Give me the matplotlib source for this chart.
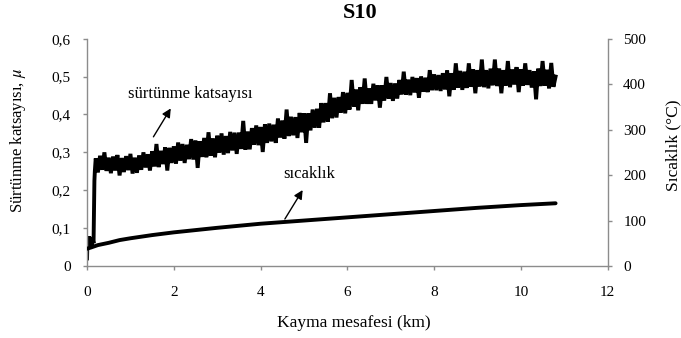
import numpy as np
import matplotlib
matplotlib.use("Agg")
import matplotlib.pyplot as plt

plt.rcParams["font.family"] = ["Liberation Serif", "DejaVu Serif"]
plt.rcParams["mathtext.fontset"] = "stix"

# ---- data -----------------------------------------------------------------
# running-in stage of the friction record (distance in km, coefficient)
start_km = [0.0, 0.01, 0.03, 0.05, 0.07, 0.09, 0.11, 0.13, 0.15, 0.16, 0.17, 0.18]
start_mu = [0.020, 0.070, 0.048, 0.078, 0.050, 0.075, 0.055, 0.072, 0.060, 0.150, 0.225, 0.250]

# friction coefficient readings every 0.05 km from 0.20 km to 10.80 km
friction_mu = [
    0.284, 0.247, 0.291, 0.254, 0.300, 0.251, 0.286, 0.245, 0.289, 0.252,
    0.293, 0.239, 0.285, 0.248, 0.290, 0.253, 0.296, 0.244, 0.286, 0.246,
    0.292, 0.254, 0.300, 0.260, 0.295, 0.252, 0.303, 0.263, 0.322, 0.261,
    0.304, 0.269, 0.313, 0.252, 0.312, 0.272, 0.316, 0.270, 0.326, 0.278,
    0.322, 0.272, 0.320, 0.282, 0.335, 0.281, 0.331, 0.259, 0.329, 0.288,
    0.338, 0.287, 0.353, 0.291, 0.337, 0.287, 0.344, 0.299, 0.350, 0.294,
    0.343, 0.298, 0.354, 0.305, 0.352, 0.296, 0.352, 0.309, 0.383, 0.307,
    0.355, 0.308, 0.364, 0.320, 0.371, 0.319, 0.367, 0.301, 0.374, 0.325,
    0.376, 0.329, 0.373, 0.325, 0.389, 0.339, 0.384, 0.336, 0.413, 0.343,
    0.394, 0.345, 0.393, 0.338, 0.404, 0.353, 0.403, 0.325, 0.403, 0.358,
    0.413, 0.365, 0.415, 0.365, 0.430, 0.379, 0.430, 0.381, 0.456, 0.390,
    0.444, 0.392, 0.446, 0.405, 0.459, 0.403, 0.457, 0.413, 0.491, 0.421,
    0.466, 0.411, 0.472, 0.428, 0.495, 0.428, 0.469, 0.428, 0.481, 0.437,
    0.477, 0.418, 0.477, 0.437, 0.499, 0.442, 0.483, 0.436, 0.482, 0.442,
    0.491, 0.453, 0.513, 0.452, 0.492, 0.451, 0.499, 0.458, 0.496, 0.444,
    0.500, 0.460, 0.497, 0.459, 0.517, 0.464, 0.506, 0.464, 0.504, 0.462,
    0.509, 0.466, 0.516, 0.448, 0.509, 0.465, 0.535, 0.471, 0.515, 0.465,
    0.513, 0.470, 0.535, 0.473, 0.519, 0.456, 0.517, 0.474, 0.545, 0.472,
    0.517, 0.469, 0.521, 0.477, 0.545, 0.475, 0.521, 0.456, 0.517, 0.476,
    0.541, 0.472, 0.519, 0.479, 0.525, 0.459, 0.519, 0.476, 0.535, 0.478,
    0.517, 0.471, 0.514, 0.440, 0.521, 0.475, 0.541, 0.476, 0.518, 0.469,
    0.536, 0.473, 0.500,
]
friction_km = np.linspace(0.20, 10.80, len(friction_mu))

# disc temperature (km, deg C)
temp_km = [0, 0.1, 0.25, 0.5, 0.75, 1, 1.5, 2, 2.5, 3, 4, 5, 6, 7, 8, 9, 10, 10.8]
temp_c = [38, 41, 46, 51, 57, 61, 68, 74, 79, 84, 93, 100, 107, 114, 121, 128, 134, 138]

x_ticks = [0, 2, 4, 6, 8, 10, 12]
mu_ticks = [0, 0.1, 0.2, 0.3, 0.4, 0.5, 0.6]
mu_tick_labels = ["0", "0,1", "0,2", "0,3", "0,4", "0,5", "0,6"]
temp_ticks = [0, 100, 200, 300, 400, 500]

# ---- figure ---------------------------------------------------------------
fig = plt.figure(figsize=(6.81, 3.38), dpi=100)
ax = fig.add_axes([0.1278, 0.213, 0.7645, 0.6725])
ax2 = ax.twinx()

spine_grey = "#8c8c8c"
lw = 2.8

ax.plot(list(start_km) + list(friction_km), list(start_mu) + list(friction_mu),
        color="black", lw=lw, solid_joinstyle="miter")
ax2.plot(temp_km, temp_c, color="black", lw=lw, solid_capstyle="round")

ax.set_xlim(0, 12)
ax.set_ylim(0, 0.6)
ax2.set_ylim(0, 500)

ax.set_xticks(x_ticks)
ax.set_xticklabels([str(t) for t in x_ticks])
ax.set_yticks(mu_ticks)
ax.set_yticklabels(mu_tick_labels)
ax2.set_yticks(temp_ticks)
ax2.set_yticklabels([str(t) for t in temp_ticks])

for a in (ax, ax2):
    a.spines["top"].set_visible(False)
    for s in a.spines.values():
        s.set_color(spine_grey)
        s.set_linewidth(1.0)
ax.spines["right"].set_visible(False)
ax2.spines["left"].set_visible(False)
ax2.spines["bottom"].set_visible(False)

ax.tick_params(axis="both", direction="out", length=3.2, width=1.0,
               color=spine_grey, labelsize=11, pad=8.5)
ax.tick_params(axis="x", pad=11.5)
ax2.tick_params(axis="y", direction="out", length=3.2, width=1.0,
                color=spine_grey, labelsize=11, pad=8)

ax.set_xlabel("Kayma mesafesi (km)", fontsize=12.5)
ax.xaxis.set_label_coords(0.512, -0.216)
ax.set_ylabel("Sürtünme katsayısı, $\\mu$", fontsize=12)
ax.yaxis.set_label_coords(-0.113, 0.552)
ax2.set_ylabel("Sıcaklık (°C)", fontsize=12.5)
ax2.yaxis.set_label_coords(1.110, 0.53)

fig.text(0.529, 0.963, "S10", ha="center", va="center",
         fontsize=16, fontweight="bold")

# callouts
ax.annotate("", xy=(1.93, 0.416), xytext=(1.53, 0.341),
            arrowprops=dict(arrowstyle="-|>", color="black", lw=1.0,
                            shrinkA=0, shrinkB=0, mutation_scale=13))
ax.text(2.37, 0.455, "sürtünme katsayısı", ha="center", va="center", fontsize=12)

ax.annotate("", xy=(4.97, 0.2005), xytext=(4.56, 0.124),
            arrowprops=dict(arrowstyle="-|>", color="black", lw=1.0,
                            shrinkA=0, shrinkB=0, mutation_scale=13))
ax.text(5.12, 0.243, "sıcaklık", ha="center", va="center", fontsize=12)

fig.savefig("out.png", dpi=100)
